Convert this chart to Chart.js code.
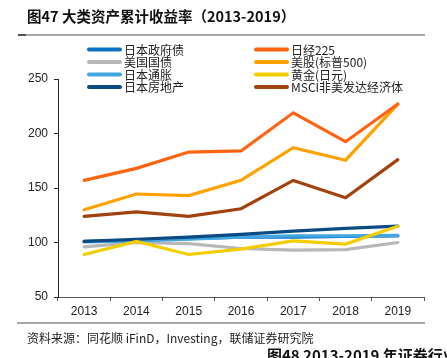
<!DOCTYPE html>
<html>
<head>
<meta charset="utf-8">
<script src="https://cdn.jsdelivr.net/npm/chart.js@4/dist/chart.umd.min.js"></script>
<style>
html,body{margin:0;padding:0;background:#fff;}
canvas{display:block;}
</style>
</head>
<body>
<canvas id="c" width="447" height="358"></canvas>
<script>
const years = ['2013','2014','2015','2016','2017','2018','2019'];
const jgb      = [101, 102, 103.5, 105, 105, 105.5, 106];
const ust      = [96, 100, 99, 94.5, 93, 93.5, 100];
const jpInfl   = [100.5, 101.5, 103, 105, 106, 106, 106.5];
const jpHouse  = [101, 103, 105, 107.5, 110.5, 113, 115];
const nikkei   = [157, 168, 183, 184, 219, 192.5, 227];
const spx      = [130, 144.5, 143, 157, 187, 175.5, 227];
const goldJpy  = [89, 101, 89, 94, 101.5, 98.5, 115];
const msciExUS = [124, 128, 124, 131, 157, 141, 176];
const seriesNames = ['日本政府债','美国国债','日本通胀','日本房地产','日经225','美股(标普500)','黄金(日元)','MSCI非美发达经济体'];
const yTicks = [50, 100, 150, 200, 250];

const colors = ['#0A72C4','#B7B7B7','#43A6E0','#0B4A82','#FF6310','#FFA200','#F2CD00','#A2420E'];
const seriesData = [jgb, ust, jpInfl, jpHouse, nikkei, spx, goldJpy, msciExUS];
const drawOrder = [7, 8, 6, 5, 2, 4, 3, 1]; // lower = on top

const datasets = seriesData.map((d, i) => ({
  label: seriesNames[i],
  data: d,
  borderColor: colors[i],
  backgroundColor: colors[i],
  borderWidth: 3.2,
  pointRadius: 0,
  tension: 0,
  fill: false,
  order: drawOrder[i],
  borderCapStyle: 'round',
  borderJoinStyle: 'miter'
}));

const CJK = '"Noto Sans CJK SC", "Liberation Sans", sans-serif';
const LAT = '"Liberation Sans", Arial, sans-serif';

const decor = {
  id: 'decor',
  beforeDraw(chart) {
    const ctx = chart.ctx;
    ctx.save();
    ctx.fillStyle = '#fff';
    ctx.fillRect(0, 0, chart.width, chart.height);
    ctx.restore();
  },
  afterDraw(chart) {
    const ctx = chart.ctx;
    ctx.save();
    // Title
    ctx.fillStyle = '#111';
    ctx.textBaseline = 'middle';
    ctx.textAlign = 'left';
    ctx.font = 'bold 14.5px ' + CJK;
    ctx.fillText('图47 大类资产累计收益率（2013-2019）', 27, 16);
    // top rule
    ctx.fillStyle = '#A8A8A8';
    ctx.fillRect(18, 34, 407, 2);
    ctx.fillStyle = '#555';
    ctx.fillRect(18, 34, 8, 2);
    // Legend
    const rows = [49.5, 62, 74.5, 87];
    ctx.font = '12px ' + CJK;
    ctx.lineWidth = 4;
    ctx.lineCap = 'round';
    for (let i = 0; i < 8; i++) {
      const col = i < 4 ? 0 : 1;
      const r = i % 4;
      const x0 = col === 0 ? 89 : 256;
      const y = rows[r];
      ctx.strokeStyle = colors[i];
      ctx.beginPath();
      ctx.moveTo(x0, y);
      ctx.lineTo(x0 + 31, y);
      ctx.stroke();
      ctx.fillStyle = '#222';
      ctx.fillText(seriesNames[i], x0 + 35, y + 0.5);
    }
    // bottom rule
    ctx.fillStyle = '#A8A8A8';
    ctx.fillRect(17, 322, 408, 2);
    // Source
    ctx.fillStyle = '#222';
    ctx.font = '12px ' + CJK;
    ctx.fillText('资料来源：同花顺 iFinD，Investing，联储证券研究院', 27, 338);
    // Next figure caption (clipped)
    ctx.fillStyle = '#111';
    ctx.font = 'bold 15px ' + CJK;
    ctx.textBaseline = 'top';
    ctx.fillText('图48 2013-2019 年证券行业指数', 267, 348);
    ctx.restore();
  }
};

new Chart(document.getElementById('c'), {
  type: 'line',
  data: { labels: years, datasets },
  options: {
    responsive: false,
    animation: false,
    devicePixelRatio: 1,
    layout: { padding: { left: 0, right: 23, top: 79, bottom: 41 } },
    plugins: { legend: { display: false }, title: { display: false }, tooltip: { enabled: false } },
    scales: {
      x: {
        type: 'category',
        offset: true,
        grid: { offset: true, drawOnChartArea: false, drawTicks: true, tickLength: 4, color: '#555' },
        border: { color: '#555', width: 1 },
        ticks: { color: '#222', font: { family: LAT, size: 12 }, padding: 3, maxRotation: 0 },
        afterFit(s) { s.height = 20; }
      },
      y: {
        min: 50, max: 250,
        afterBuildTicks(s) { s.ticks = yTicks.map(v => ({ value: v })); },
        grid: { drawOnChartArea: false, drawTicks: true, tickLength: 4, color: '#222' },
        border: { color: '#222', width: 1 },
        ticks: { color: '#222', font: { family: LAT, size: 12 }, padding: 6 },
        afterFit(s) { s.width = 58; }
      }
    }
  },
  plugins: [decor]
});
</script>
</body>
</html>
